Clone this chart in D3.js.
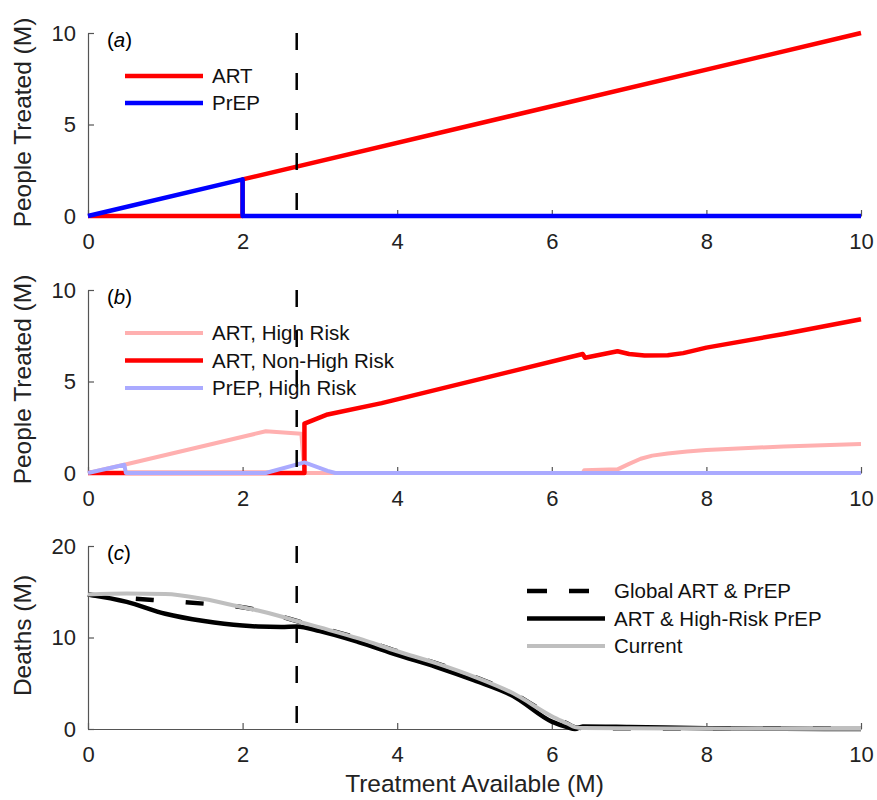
<!DOCTYPE html>
<html>
<head>
<meta charset="utf-8">
<script src="https://cdn.jsdelivr.net/npm/d3@7/dist/d3.min.js"></script>
<style>
  body { margin: 0; background: #fff; }
  svg { font-family: "Liberation Sans", Arial, sans-serif; }
  .tick text { fill: #222; }
</style>
</head>
<body>
<script>
// chart data
var xTicks = [0, 2, 4, 6, 8, 10];
var cutoff = 2.7;

// (a) people treated
var aArtX = [0, 2, 2, 10];
var aArtY = [0, 0, 2, 10];
var aPrepX = [0, 2, 2, 10];
var aPrepY = [0, 2, 0, 0];

// (b) people treated by risk group
var bArtHighX = [0, 0.47, 2.3, 2.76, 2.8, 6.4, 6.42, 6.85, 7.0, 7.15, 7.3, 7.5, 7.75, 8, 9, 10];
var bArtHighY = [0, 0.45, 2.28, 2.15, 0, 0, 0.15, 0.2, 0.5, 0.78, 0.95, 1.07, 1.18, 1.26, 1.45, 1.58];
var bArtNonX = [0, 2.8, 2.8, 3.1, 3.8, 6.4, 6.43, 6.85, 7.0, 7.2, 7.5, 7.7, 8.0, 9, 10];
var bArtNonY = [0, 0, 2.7, 3.2, 3.82, 6.5, 6.3, 6.65, 6.5, 6.42, 6.43, 6.55, 6.85, 7.6, 8.4];
var bPrepHighX = [0, 0.47, 0.49, 2.3, 2.8, 3.1, 3.2, 10];
var bPrepHighY = [0, 0.45, 0, 0, 0.58, 0.12, 0, 0];

// (c) deaths
var cX = [0, 0.5, 1, 1.5, 2, 2.2, 2.5, 2.7, 3, 3.5, 4, 4.5, 5, 5.5, 6, 6.2, 6.3, 6.4, 7, 8, 9, 10];
var cGlobal = [14.7, 14.3, 14.0, 13.7, 13.3, 13.0, 12.3, 11.8, 11.1, 9.9, 8.5, 7.2, 5.7, 3.9, 1.4, 0.6, 0.2, 0.1, 0.08, 0.05, 0.03, 0.02];
var cHighRisk = [14.7, 13.9, 12.6, 11.8, 11.3, 11.2, 11.15, 11.2, 10.7, 9.5, 8.1, 6.8, 5.3, 3.6, 0.8, 0.2, 0.0, 0.28, 0.22, 0.08, 0.02, 0];
var cCurrent = [14.7, 14.8, 14.75, 14.2, 13.3, 12.95, 12.3, 11.8, 11.1, 9.9, 8.5, 7.2, 5.7, 3.9, 1.4, 0.6, 0.2, 0.1, 0.08, 0.05, 0.03, 0.02];

var svg = d3.select("body").append("svg")
  .attr("width", 877)
  .attr("height", 800);

var x = d3.scaleLinear().domain([0, 10]).range([88, 861]);

function drawPanel(p) {
  var y = d3.scaleLinear().domain([0, p.yMax]).range([p.bottom, p.top]);
  var g = svg.append("g");

  // axes, ticks pointing inward like matlab
  var yAxis = g.append("g")
    .attr("transform", "translate(" + x(0) + ",0)")
    .call(d3.axisLeft(y).tickValues(p.yTicks).tickSizeInner(-6).tickSizeOuter(0).tickPadding(12));
  var xAxis = g.append("g")
    .attr("transform", "translate(0," + y(0) + ")")
    .call(d3.axisBottom(x).tickValues(xTicks).tickSizeInner(-6).tickSizeOuter(0).tickPadding(17));
  [xAxis, yAxis].forEach(function(ax) {
    ax.selectAll("path, line").attr("stroke", "#555").attr("stroke-width", 1.2);
    ax.selectAll("text").style("font-size", "22px").attr("fill", "#222");
  });

  var line = d3.line()
    .x(function(d) { return x(d[0]); })
    .y(function(d) { return y(d[1]); })
    .curve(p.curve || d3.curveLinear);

  p.series.forEach(function(s) {
    g.append("path")
      .datum(d3.zip(s.x, s.y))
      .attr("d", line)
      .attr("fill", "none")
      .attr("stroke", s.color)
      .attr("stroke-width", s.width)
      .attr("stroke-dasharray", s.dash || null)
      .attr("stroke-dashoffset", s.dash ? 2 : null)
      .attr("stroke-linejoin", "round");
  });

  // cutoff line
  g.append("line")
    .attr("x1", x(cutoff)).attr("x2", x(cutoff))
    .attr("y1", p.top).attr("y2", p.bottom)
    .attr("stroke", "#000")
    .attr("stroke-width", 2.5)
    .attr("stroke-dasharray", "17,23");

  // panel label
  var lab = g.append("text")
    .attr("x", 107).attr("y", p.top + 14)
    .style("font-size", "20.5px");
  lab.append("tspan").text("(");
  lab.append("tspan").style("font-style", "italic").text(p.label);
  lab.append("tspan").text(")");

  // legend
  p.series.forEach(function(s, i) {
    var ly = p.legendY + i * p.legendStep;
    g.append("line")
      .attr("x1", p.legendX).attr("x2", p.legendX + 78)
      .attr("y1", ly).attr("y2", ly)
      .attr("stroke", s.color)
      .attr("stroke-width", s.width)
      .attr("stroke-dasharray", s.dash ? "20,22" : null);
    g.append("text")
      .attr("x", p.legendX + 87).attr("y", ly)
      .attr("dy", "0.35em")
      .style("font-size", "20.5px")
      .attr("fill", "#111")
      .text(s.name);
  });

  // y title
  g.append("text")
    .attr("transform", "translate(31," + ((p.top + p.bottom) / 2 - 2) + ") rotate(-90)")
    .attr("text-anchor", "middle")
    .style("font-size", "24.5px")
    .attr("fill", "#222")
    .text(p.yTitle);
}

drawPanel({
  label: "a", top: 33, bottom: 216, yMax: 10, yTicks: [0, 5, 10],
  yTitle: "People Treated (M)",
  legendX: 125, legendY: 76, legendStep: 27,
  series: [
    {name: "ART", x: aArtX, y: aArtY, color: "#ff0000", width: 4.5},
    {name: "PrEP", x: aPrepX, y: aPrepY, color: "#0000ff", width: 4.5}
  ]
});

drawPanel({
  label: "b", top: 290, bottom: 473, yMax: 10, yTicks: [0, 5, 10],
  yTitle: "People Treated (M)",
  legendX: 125, legendY: 333, legendStep: 27.5,
  series: [
    {name: "ART, High Risk", x: bArtHighX, y: bArtHighY, color: "#ffb0b0", width: 4},
    {name: "ART, Non-High Risk", x: bArtNonX, y: bArtNonY, color: "#ff0000", width: 4.5},
    {name: "PrEP, High Risk", x: bPrepHighX, y: bPrepHighY, color: "#aaaaff", width: 4}
  ]
});

drawPanel({
  label: "c", top: 546, bottom: 729, yMax: 20, yTicks: [0, 10, 20],
  yTitle: "Deaths (M)",
  legendX: 527, legendY: 591, legendStep: 27.5,
  curve: d3.curveMonotoneX,
  series: [
    {name: "Global ART & PrEP", x: cX, y: cGlobal, color: "#000", width: 4.5, dash: "18,32"},
    {name: "ART & High-Risk PrEP", x: cX, y: cHighRisk, color: "#000", width: 4.5},
    {name: "Current", x: cX, y: cCurrent, color: "#bfbfbf", width: 4}
  ]
});

svg.append("text")
  .attr("x", (x(0) + x(10)) / 2).attr("y", 792)
  .attr("text-anchor", "middle")
  .style("font-size", "24.5px")
  .attr("fill", "#222")
  .text("Treatment Available (M)");
</script>
</body>
</html>
